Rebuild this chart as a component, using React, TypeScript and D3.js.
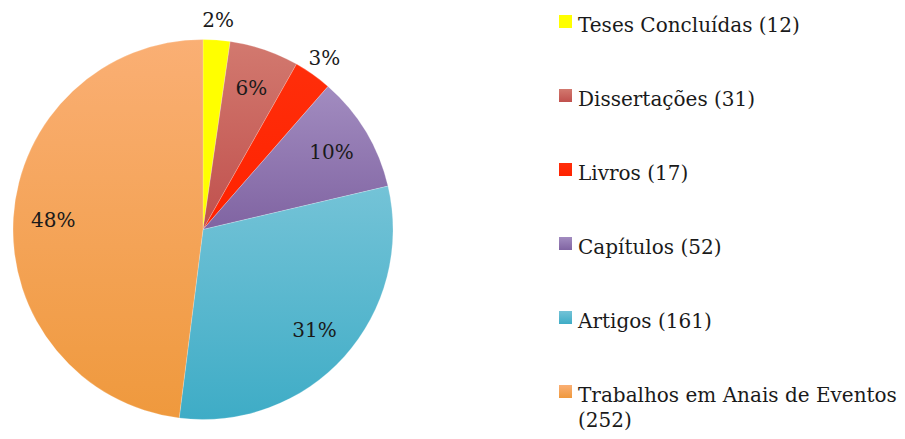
import React, { useEffect, useRef } from "react";
import * as d3 from "d3";

const categories = [
  "Teses Concluídas",
  "Dissertações",
  "Livros",
  "Capítulos",
  "Artigos",
  "Trabalhos em Anais de Eventos",
];
const values = [12, 31, 17, 52, 161, 252];
const topColors = ["#FFFF00", "#D2796F", "#FF2E0A", "#A28CC0", "#74C3D7", "#FAAF74"];
const bottomColors = ["#FFFF00", "#C0504D", "#FF2200", "#8064A2", "#3EACC6", "#EF993D"];
const outsideLabel = [true, false, true, false, false, false];

const W = 905;
const H = 439;
const FONT = "'DejaVu Serif', serif";

export default function App() {
  const ref = useRef<SVGSVGElement>(null);

  useEffect(() => {
    const svg = d3.select(ref.current);
    svg.selectAll("*").remove();

    const cx = 203;
    const cy = 229.5;
    const R = 190;
    const total = d3.sum(values);

    const defs = svg.append("defs");
    categories.forEach((_, i) => {
      const g = defs
        .append("linearGradient")
        .attr("id", `grad${i}`)
        .attr("x1", 0)
        .attr("y1", 0)
        .attr("x2", 0)
        .attr("y2", 1);
      g.append("stop").attr("offset", "0%").attr("stop-color", topColors[i]);
      g.append("stop").attr("offset", "100%").attr("stop-color", bottomColors[i]);
    });

    const pie = d3
      .pie<number>()
      .sort(null)
      .value((d) => d)
      .startAngle(0)
      .endAngle(2 * Math.PI);
    const arcs = pie(values);
    const arc = d3.arc<d3.PieArcDatum<number>>().innerRadius(0).outerRadius(R);

    const gPie = svg.append("g").attr("transform", `translate(${cx},${cy})`);
    gPie
      .selectAll("path")
      .data(arcs)
      .join("path")
      .attr("d", arc as any)
      .attr("fill", (_, i) => `url(#grad${i})`)
      .attr("stroke", "rgba(255,255,255,0.35)")
      .attr("stroke-width", 0.6);

    const fmt = (v: number) => `${Math.round((v / total) * 100)}%`;

    gPie
      .selectAll("text")
      .data(arcs)
      .join("text")
      .attr("x", (d, i) => {
        const a = (d.startAngle + d.endAngle) / 2;
        const r = outsideLabel[i] ? 210 : 150;
        return Math.sin(a) * r;
      })
      .attr("y", (d, i) => {
        const a = (d.startAngle + d.endAngle) / 2;
        const r = outsideLabel[i] ? 210 : 150;
        return -Math.cos(a) * r;
      })
      .attr("text-anchor", "middle")
      .attr("dominant-baseline", "central")
      .attr("font-family", FONT)
      .attr("font-size", 20)
      .attr("fill", "#1a1a1a")
      .text((d) => fmt(d.data));

    // Legend
    const lx = 559;
    const ly0 = 15;
    const step = 74;
    const maxW = W - 578 - 2;
    const leg = svg.append("g");
    categories.forEach((c, i) => {
      const y = ly0 + i * step;
      leg
        .append("rect")
        .attr("x", lx)
        .attr("y", y)
        .attr("width", 13)
        .attr("height", 13)
        .attr("fill", `url(#grad${i})`);
      const t = leg
        .append("text")
        .attr("x", 578)
        .attr("y", y + 17)
        .attr("font-family", FONT)
        .attr("font-size", 20)
        .attr("fill", "#1a1a1a");
      const words = `${c} (${values[i]})`.split(" ");
      let line: string[] = [];
      let lineNo = 0;
      let ts = t.append("tspan").attr("x", 578).attr("dy", 0);
      words.forEach((w) => {
        line.push(w);
        ts.text(line.join(" "));
        if ((ts.node() as SVGTSpanElement).getComputedTextLength() > maxW && line.length > 1) {
          line.pop();
          ts.text(line.join(" "));
          line = [w];
          lineNo++;
          ts = t.append("tspan").attr("x", 578).attr("dy", 25).text(w);
        }
      });
    });
  }, []);

  return (
    <svg
      ref={ref}
      width={W}
      height={H}
      style={{ position: "absolute", left: 0, top: 0, background: "#fff" }}
    />
  );
}
